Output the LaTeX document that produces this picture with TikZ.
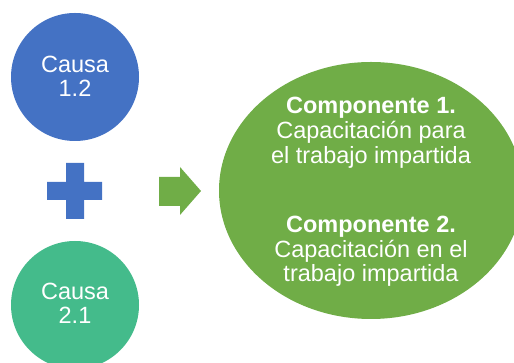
\documentclass[tikz,border=0pt]{standalone}
\usetikzlibrary{shapes.geometric}
\usepackage{fontspec}
\setmainfont{Liberation Sans}
\definecolor{cblue}{HTML}{4472C4}
\definecolor{cteal}{HTML}{44BB8B}
\definecolor{cgreen}{HTML}{70AD47}
\tikzset{
  txt/.style={text=white, anchor=base, inner sep=0pt, font=\fontsize{23.5pt}{25pt}\selectfont},
  btxt/.style={txt, font=\fontsize{23.5pt}{25pt}\selectfont\bfseries},
  disc/.style={circle, minimum size=128pt, inner sep=0pt}
}
\begin{document}
\begin{tikzpicture}[x=1pt,y=1pt]
\useasboundingbox (0,0) rectangle (514,363);
\clip (0,0) rectangle (514,363);
% cause circles
\node[disc, fill=cblue] (c1) at (75,286) {};
\node[disc, fill=cteal] (c2) at (75,58) {};
\node[txt] (c1a) at (75,290) {Causa};
\node[txt] (c1b) at (75,266) {1.2};
\node[txt] (c2a) at (75,63) {Causa};
\node[txt] (c2b) at (75,39) {2.1};
% plus sign
\fill[cblue] (47,163) -- (66,163) -- (66,144) -- (84,144) -- (84,163) -- (102,163)
  -- (102,181) -- (84,181) -- (84,200) -- (66,200) -- (66,181) -- (47,181) -- cycle;
% arrow
\fill[cgreen] (159,157) -- (180,157) -- (180,148) -- (201,172) -- (180,196) -- (180,186) -- (159,186) -- cycle;
% result ellipse
\node[ellipse, fill=cgreen, minimum width=304pt, minimum height=257pt, inner sep=0pt] (res) at (371,172.5) {};
\node[btxt] (r1) at (371,249) {Componente 1.};
\node[txt] (r2) at (371,224) {Capacitación para};
\node[txt] (r3) at (371,199) {el trabajo impartida};
\node[btxt] (r4) at (371,130) {Componente 2.};
\node[txt] (r5) at (371,105) {Capacitación en el};
\node[txt] (r6) at (371,81) {trabajo impartida};
\end{tikzpicture}
\end{document}
